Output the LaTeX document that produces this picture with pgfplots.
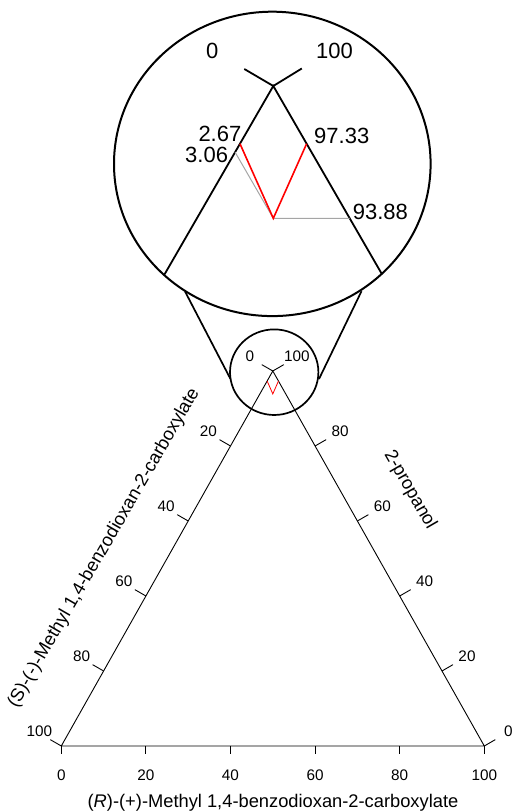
\documentclass[border=0pt]{standalone}
\usepackage{fontspec}
\setmainfont{Liberation Sans}
\usepackage{pgfplots}
\pgfplotsset{compat=1.18}
\pgfplotsset{
  table/tern/.style={x expr={\thisrow{R}+0.5*\thisrow{P}}, y expr={0.866025*\thisrow{P}}, row sep=\\},
}
\newcommand{\tk}{\fontsize{15.3}{17}\selectfont}
\newcommand{\ttl}{\fontsize{18.3}{21}\selectfont}
\newcommand{\ins}{\fontsize{22}{26}\selectfont}
\begin{document}
\begin{tikzpicture}
\path[use as bounding box] (0pt,0pt) rectangle (514pt,812pt);
% ---------------- main ternary diagram ----------------
\begin{axis}[hide axis, clip=false, scale only axis,
  width=423pt, height=375pt,
  xmin=0, xmax=100, ymin=0, ymax=86.6025,
  at={(61.3pt,66pt)}, anchor=south west]
\addplot[black, line width=0.9pt, line join=miter] coordinates {(0,0) (100,0) (50,86.6025) (0,0)};
\addplot[red, line width=0.8pt] table[tern] {
S R P\\
2.67 0 97.33\\
3.06 3.06 93.88\\
0 2.67 97.33\\
};
% bottom axis ticks
\draw[line width=0.9pt] (axis cs:0,0) -- ++(0pt,-8pt);
\draw[line width=0.9pt] (axis cs:20,0) -- ++(0pt,-8pt);
\draw[line width=0.9pt] (axis cs:40,0) -- ++(0pt,-8pt);
\draw[line width=0.9pt] (axis cs:60,0) -- ++(0pt,-8pt);
\draw[line width=0.9pt] (axis cs:80,0) -- ++(0pt,-8pt);
\draw[line width=0.9pt] (axis cs:100,0) -- ++(0pt,-8pt);
\node[font=\tk] at ([yshift=-29pt]axis cs:0,0) {0};
\node[font=\tk] at ([yshift=-29pt]axis cs:20,0) {20};
\node[font=\tk] at ([yshift=-29pt]axis cs:40,0) {40};
\node[font=\tk] at ([yshift=-29pt]axis cs:60,0) {60};
\node[font=\tk] at ([yshift=-29pt]axis cs:80,0) {80};
\node[font=\tk] at ([yshift=-29pt]axis cs:100,0) {100};
% left axis ticks
\draw[line width=0.9pt] (axis cs:50,86.6025) -- ++(-11pt,6.35pt);
\draw[line width=0.9pt] (axis cs:40,69.282) -- ++(-11pt,6.35pt);
\draw[line width=0.9pt] (axis cs:30,51.9615) -- ++(-11pt,6.35pt);
\draw[line width=0.9pt] (axis cs:20,34.641) -- ++(-11pt,6.35pt);
\draw[line width=0.9pt] (axis cs:10,17.3205) -- ++(-11pt,6.35pt);
\draw[line width=0.9pt] (axis cs:0,0) -- ++(-11pt,6.35pt);
\node[font=\tk] at ([xshift=-23pt,yshift=15pt]axis cs:50,86.6025) {0};
\node[font=\tk] at ([xshift=-22pt,yshift=14.5pt]axis cs:40,69.282) {20};
\node[font=\tk] at ([xshift=-22pt,yshift=14.5pt]axis cs:30,51.9615) {40};
\node[font=\tk] at ([xshift=-22pt,yshift=14.5pt]axis cs:20,34.641) {60};
\node[font=\tk] at ([xshift=-22pt,yshift=14.5pt]axis cs:10,17.3205) {80};
\node[font=\tk] at ([xshift=-22pt,yshift=14.5pt]axis cs:0,0) {100};
% right axis ticks
\draw[line width=0.9pt] (axis cs:100,0) -- ++(11pt,6.35pt);
\draw[line width=0.9pt] (axis cs:90,17.3205) -- ++(11pt,6.35pt);
\draw[line width=0.9pt] (axis cs:80,34.641) -- ++(11pt,6.35pt);
\draw[line width=0.9pt] (axis cs:70,51.9615) -- ++(11pt,6.35pt);
\draw[line width=0.9pt] (axis cs:60,69.282) -- ++(11pt,6.35pt);
\draw[line width=0.9pt] (axis cs:50,86.6025) -- ++(11pt,6.35pt);
\node[font=\tk] at ([xshift=24pt,yshift=14.5pt]axis cs:100,0) {0};
\node[font=\tk] at ([xshift=25pt,yshift=14.5pt]axis cs:90,17.3205) {20};
\node[font=\tk] at ([xshift=25pt,yshift=14.5pt]axis cs:80,34.641) {40};
\node[font=\tk] at ([xshift=25pt,yshift=14.5pt]axis cs:70,51.9615) {60};
\node[font=\tk] at ([xshift=25pt,yshift=14.5pt]axis cs:60,69.282) {80};
\node[font=\tk] at ([xshift=24pt,yshift=15pt]axis cs:50,86.6025) {100};
\end{axis}
% ---------------- magnified inset ----------------
\begin{axis}[hide axis, clip=false, scale only axis,
  width=349.58pt, height=334.6pt,
  xmin=43, xmax=57, ymin=76.6025, ymax=90.0025,
  at={(98.51pt,476.3pt)}, anchor=south west]
\addplot[black, line width=1.8pt, line join=miter] table[tern] {
S R P\\
8.7 0 91.3\\
0 0 100\\
0 8.7 91.3\\
};
\draw[line width=1.8pt] (axis cs:50,86.6025) -- ++(-29pt,17pt);
\draw[line width=1.8pt] (axis cs:50,86.6025) -- ++(28.5pt,17.5pt);
\addplot[color={rgb,255:red,165;green,165;blue,165}, line width=1pt] table[tern] {
S R P\\
3.06 0 96.94\\
3.06 3.06 93.88\\
0 6.12 93.88\\
};
\addplot[red, line width=1.6pt] table[tern] {
S R P\\
2.67 0 97.33\\
3.06 3.06 93.88\\
0 2.67 97.33\\
};
\end{axis}
% ---------------- magnifier outline ----------------
\draw[line width=2pt] (272.3pt,648.1pt) ellipse [x radius=158.3pt, y radius=152.2pt];
\draw[line width=1.7pt] (274.2pt,439.8pt) ellipse [x radius=44.2pt, y radius=42.8pt];
\draw[line width=1.7pt] (185pt,520.6pt) -- (230.5pt,433pt);
\draw[line width=1.7pt] (361.5pt,520.8pt) -- (319pt,433pt);
% inset labels
\node[font=\ins, inner sep=0pt, anchor=base west] at (206pt,753.7pt) {0};
\node[font=\ins, inner sep=0pt, anchor=base west] at (316pt,753.7pt) {100};
\node[font=\ins, inner sep=0pt, anchor=base west] at (198.3pt,670.3pt) {2.67};
\node[font=\ins, inner sep=0pt, anchor=base west] at (185pt,649.7pt) {3.06};
\node[font=\ins, inner sep=0pt, anchor=base west] at (314pt,668.7pt) {97.33};
\node[font=\ins, inner sep=0pt, anchor=base west] at (352.7pt,592.7pt) {93.88};
% axis titles
\node[font=\ttl, anchor=base] at (273pt,5pt) {(\textit{R})-(+)-Methyl 1,4-benzodioxan-2-carboxylate};
\node[font=\ttl, rotate=60] at (104pt,264pt) {(S)-(-)-Methyl 1,4-benzodioxan-2-carboxylate};
\node[font=\ttl, rotate=-60] at (410pt,322pt) {2-propanol};
\end{tikzpicture}
\end{document}
